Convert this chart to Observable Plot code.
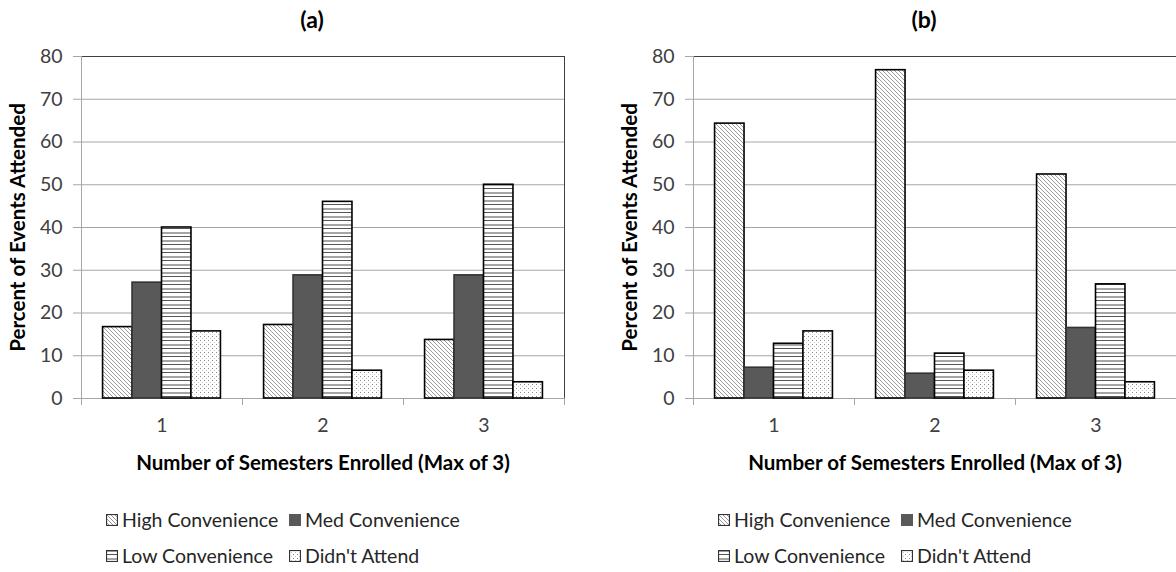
<!DOCTYPE html>
<html>
<head>
<meta charset="utf-8">
<script src="https://cdn.jsdelivr.net/npm/d3@7"></script>
<script src="https://cdn.jsdelivr.net/npm/@observablehq/plot@0.6"></script>
<style>
  html, body { margin: 0; padding: 0; background: #fff; }
  body { width: 1176px; height: 572px; position: relative; overflow: hidden; font-family: Lato, "Open Sans", sans-serif; color: #262626; }
  .panel { position: absolute; top: 0; height: 572px; }
  .title { position: absolute; top: 5px; font-weight: bold; font-size: 23px; width: 100px; text-align: center; color: #000; }
  .plot { position: absolute; top: 40px; left: 0; }
  .leg { position: absolute; font-size: 19.5px; display: flex; align-items: center; white-space: nowrap; color: #262626; }
  .leg svg { margin-right: 4px; }
</style>
</head>
<body>
<svg width="0" height="0" style="position:absolute">
  <defs>
    <pattern id="pHigh" patternUnits="userSpaceOnUse" width="4" height="4">
      <rect width="4" height="4" fill="#fff"/>
      <path d="M-1,-1 L5,5 M3,-1 L5,1 M-1,3 L1,5" stroke="#9a9a9a" stroke-width="1"/>
    </pattern>
    <pattern id="pLow" patternUnits="userSpaceOnUse" width="8" height="8">
      <rect width="8" height="8" fill="#fff"/>
      <rect y="0" width="8" height="2" fill="#a6a6a6"/>
      <rect y="4" width="8" height="1" fill="#555"/>
    </pattern>
    <pattern id="pDid" patternUnits="userSpaceOnUse" width="4" height="4">
      <rect width="4" height="4" fill="#fff"/>
      <rect x="0" y="0" width="1" height="1" fill="#8a8a8a"/>
      <rect x="2" y="2" width="1" height="1" fill="#c8c8c8"/>
    </pattern>
  </defs>
</svg>
<div id="panelA" class="panel" style="left:0;width:590px"></div>
<div id="panelB" class="panel" style="left:612px;width:564px"></div>
<script>
// ---- data ----
const semesters = [1, 2, 3];
const categories = ["High Convenience", "Med Convenience", "Low Convenience", "Didn't Attend"];
const panelTitles = ["(a)", "(b)"];
const yTicks = [0, 10, 20, 30, 40, 50, 60, 70, 80];
const yLabel = "Percent of Events Attended";
const xLabel = "Number of Semesters Enrolled (Max of 3)";

const aHigh = [16.7, 17.2, 13.7];
const aMed = [27.1, 28.8, 28.8];
const aLow = [40.0, 46.0, 50.0];
const aDidnt = [15.7, 6.5, 3.8];

const bHigh = [64.3, 76.8, 52.4];
const bMed = [7.2, 5.8, 16.5];
const bLow = [12.8, 10.5, 26.7];
const bDidnt = [15.7, 6.5, 3.8];

const fills = ["url(#pHigh)", "#595959", "url(#pLow)", "url(#pDid)"];
const strokes = ["#000", "#333", "#000", "#000"];

function makePanel(container, title, series, width, marginRight) {
  const data = [];
  semesters.forEach((s, i) => {
    categories.forEach((c, k) => data.push({semester: s, category: c, k, value: series[k][i]}));
  });
  const bw = 0.183, pad = (1 - 4 * bw) / 2;
  const boundaries = [0.5, 1.5, 2.5, 3.5];
  const plot = Plot.plot({
    width, height: 440,
    marginTop: 16, marginBottom: 82, marginLeft: 81, marginRight,
    x: {domain: [0.5, 3.5]},
    y: {domain: [0, 80]},
    color: {type: "ordinal", domain: categories, range: fills},
    style: {fontFamily: "Lato, 'Open Sans', sans-serif", fontSize: "19.5px", background: "transparent", overflow: "visible"},
    marks: [
      Plot.ruleY(yTicks.filter(t => t > 0 && t < 80), {stroke: "#a6a6a6"}),
      Plot.ruleY([80], {stroke: "#404040"}),
      Plot.ruleX([3.5], {stroke: "#404040"}),
      Plot.ruleX([0.5], {stroke: "#a6a6a6"}),
      Plot.ruleY([0], {stroke: "#a6a6a6"}),
      Plot.axisY(yTicks, {tickSize: 8, tickPadding: 11, stroke: "#a6a6a6", fill: "#404040", label: null}),
      Plot.axisX(boundaries, {tickSize: 7, tickFormat: () => "", stroke: "#a6a6a6", label: null}),
      Plot.axisX(semesters, {tickSize: 0, tickPadding: 20, tickFormat: d3.format("d"), fill: "#404040", label: null}),
      Plot.rectY(data, {
        x1: d => d.semester - 0.5 + pad + d.k * bw,
        x2: d => d.semester - 0.5 + pad + (d.k + 1) * bw,
        y: "value", fill: "category",
        stroke: d => strokes[d.k], strokeWidth: 1.6
      }),
      Plot.text([yLabel], {text: d => d, frameAnchor: "left", textAnchor: "middle", rotate: -90, dx: -63, fontWeight: "bold", fontSize: 20.5, fill: "#000"}),
      Plot.text([xLabel], {text: d => d, frameAnchor: "bottom", dy: 71, fontWeight: "bold", fontSize: 20.5, fill: "#000"})
    ]
  });
  plot.classList.add("plot");
  const t = document.createElement("div");
  t.className = "title";
  t.textContent = title;
  t.style.left = (312 - 50) + "px";
  container.appendChild(t);
  container.appendChild(plot);
  const pos = [[106, 508], [289, 508], [106, 544], [289, 544]];
  categories.forEach((c, k) => {
    const d = document.createElement("div");
    d.className = "leg";
    d.style.left = pos[k][0] + "px";
    d.style.top = pos[k][1] + "px";
    d.innerHTML = `<svg width="12" height="12"><rect x="0.5" y="0.5" width="11" height="11" fill="${fills[k]}" stroke="${k === 1 ? '#595959' : '#333'}" stroke-width="1.2"/></svg><span>${c}</span>`;
    container.appendChild(d);
  });
}

makePanel(document.getElementById("panelA"), panelTitles[0], [aHigh, aMed, aLow, aDidnt], 580, 16);
makePanel(document.getElementById("panelB"), panelTitles[1], [bHigh, bMed, bLow, bDidnt], 564, 0);
</script>
</body>
</html>
